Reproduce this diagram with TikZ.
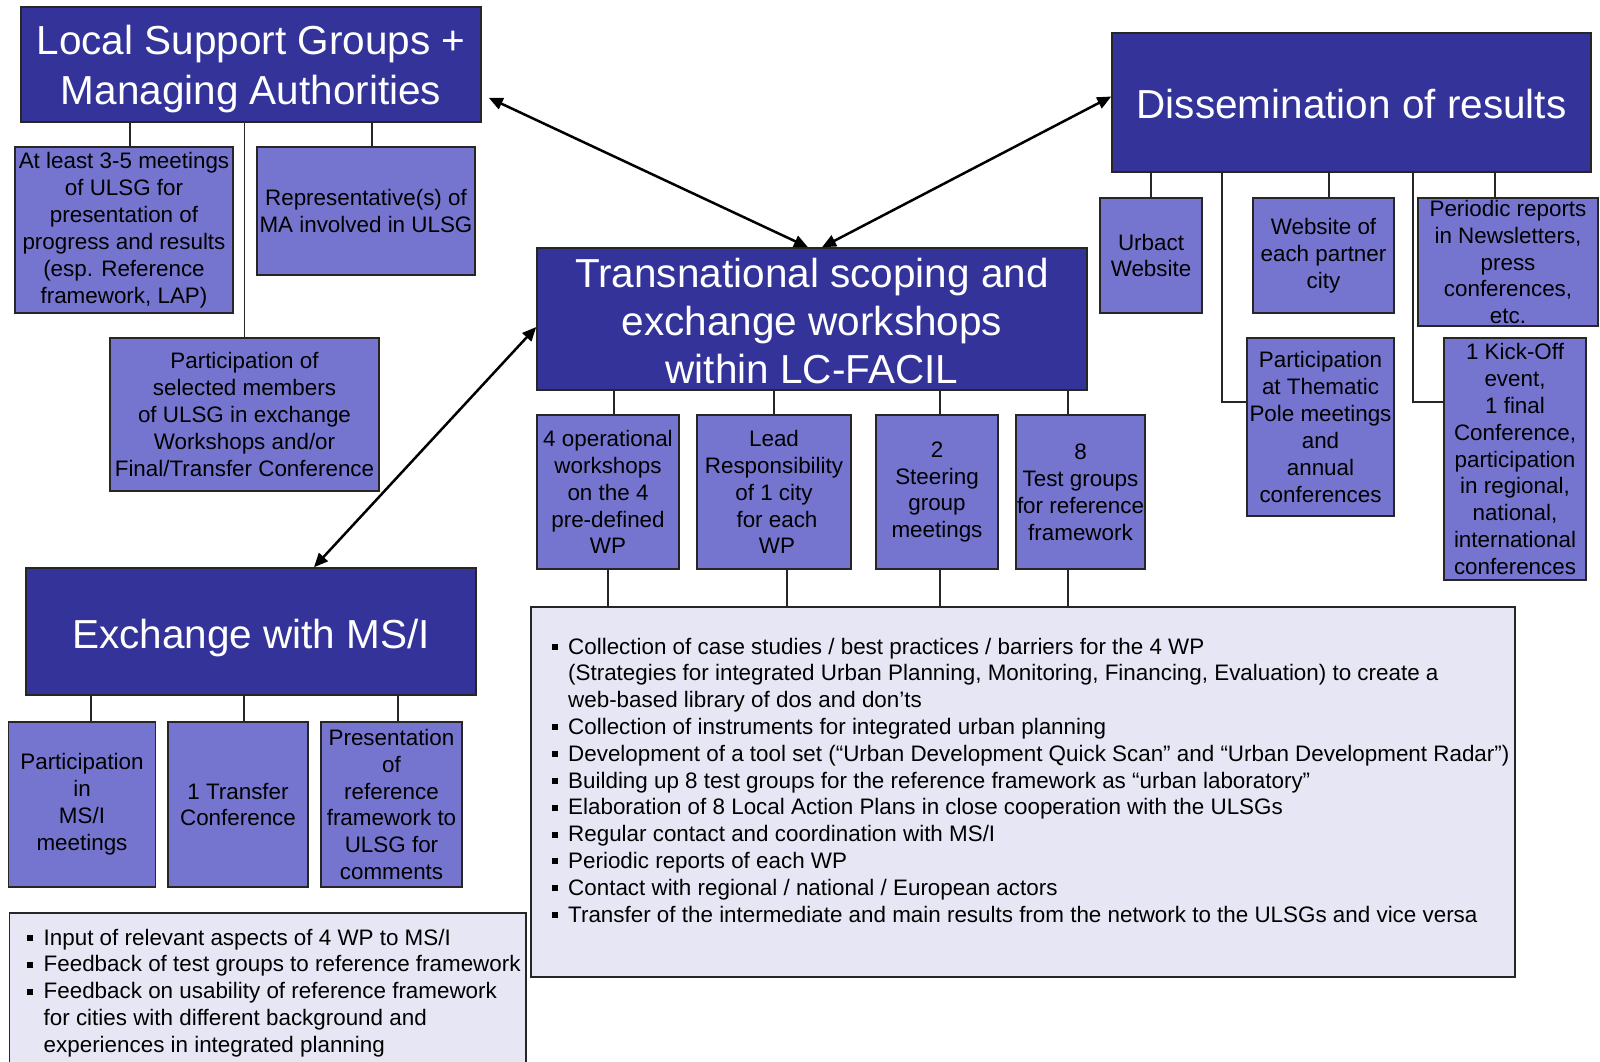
\documentclass[tikz,border=0pt]{standalone}
\usepackage{fontspec}
\setmainfont{Liberation Sans}
\usetikzlibrary{arrows.meta}
\definecolor{dkblue}{HTML}{333399}
\definecolor{mdblue}{HTML}{7575D0}
\definecolor{ltblue}{HTML}{E6E6F5}
\definecolor{edgecol}{HTML}{262626}
\newcommand{\bul}{\makebox[16.5pt][l]{\rule[4pt]{6pt}{6pt}}}
\newcommand{\ind}{\hspace*{16.5pt}}
\begin{document}
\begin{tikzpicture}[x=1pt,y=-1pt,
  titlebox/.style={draw=edgecol, line width=1.5pt, fill=dkblue, inner sep=0pt},
  titletext/.style={text=white, align=center, inner sep=0pt, font=\fontsize{40.5}{48}\selectfont},
  subbox/.style={draw=edgecol, line width=1.5pt, fill=mdblue, text=black, align=center, inner sep=0pt, font=\fontsize{22.4}{26.9}\selectfont},
  listbox/.style={draw=edgecol, line width=1.5pt, fill=ltblue},
  listtext/.style={anchor=base west, inner sep=0pt, font=\fontsize{22.4}{26.8}\selectfont},
  link/.style={draw=edgecol, line width=1.5pt},
  biarrow/.style={draw=black, line width=2.5pt, {Triangle[length=14pt,width=12pt]}-{Triangle[length=14pt,width=12pt]}}
]
\fill[white] (0,0) rectangle (1600,1062);
\useasboundingbox (0,0) rectangle (1600,1062);

% ---- Local Support Groups
\node[titlebox, minimum width=460, minimum height=115] (LSG) at (251,64.5) {};
\node[titletext, font=\fontsize{40.5}{50}\selectfont, yshift=-5pt] (LSGt) at (LSG.center) {Local Support Groups +\\Managing Authorities};
\node[subbox, minimum width=218, minimum height=166] (A) at (124,230) {At least 3-5 meetings\\of ULSG for\\presentation of\\progress and results\\(esp. Reference\\framework, LAP)};
\node[subbox, minimum width=218, minimum height=128] (B) at (366,211) {Representative(s) of\\MA involved in ULSG};
\node[subbox, minimum width=269, minimum height=153] (P) at (244.5,414.5) {Participation of\\selected members\\of ULSG in exchange\\Workshops and/or\\Final/Transfer Conference};

% ---- Transnational
\node[titlebox, minimum width=550, minimum height=142] (Trans) at (812,319) {};
\node[titletext, yshift=-2pt] (Transt) at (Trans.center) {Transnational scoping and\\exchange workshops\\within LC-FACIL};
\node[subbox, minimum width=142, minimum height=154] (T1) at (608,492) {4 operational\\workshops\\on the 4\\pre-defined\\WP};
\node[subbox, minimum width=154, minimum height=154] (T2) at (774,492) {Lead\\Responsibility\\of 1 city\\\hspace*{6pt}for each\\\hspace*{6pt}WP};
\node[subbox, minimum width=122, minimum height=154] (T3) at (937,492) {2\\Steering\\group\\meetings};
\node[subbox, minimum width=129, minimum height=154] (T4) at (1080.5,492) {8\\Test groups\\for reference\\framework};
\node[listbox, minimum width=984, minimum height=370] (L) at (1023,792) {};
\node[listtext] (Ltext) at (551.5,654) {\parbox[t]{980pt}{%
\bul Collection of case studies / best practices / barriers for the 4 WP\\
\ind (Strategies for integrated Urban Planning, Monitoring, Financing, Evaluation) to create a\\
\ind web-based library of dos and don’ts\\
\bul Collection of instruments for integrated urban planning\\
\bul Development of a tool set (“Urban Development Quick Scan” and “Urban Development Radar”)\\
\bul Building up 8 test groups for the reference framework as “urban laboratory”\\
\bul Elaboration of 8 Local Action Plans in close cooperation with the ULSGs\\
\bul Regular contact and coordination with MS/I\\
\bul Periodic reports of each WP\\
\bul Contact with regional / national / European actors\\
\bul Transfer of the intermediate and main results from the network to the ULSGs and vice versa}};

% ---- Dissemination
\node[titlebox, minimum width=479, minimum height=139] (Diss) at (1351.5,102.5) {};
\node[titletext, yshift=-2pt] (Disst) at (Diss.center) {Dissemination of results};
\node[subbox, minimum width=102, minimum height=115] (D1) at (1151,255.5) {Urbact\\Website};
\node[subbox, minimum width=141, minimum height=115] (D2) at (1323.5,255.5) {Website of\\each partner\\city};
\node[subbox, minimum width=180, minimum height=128] (D3) at (1508,262) {Periodic reports\\in Newsletters,\\press\\conferences,\\etc.};
\node[subbox, minimum width=147, minimum height=178] (D4) at (1320.5,427) {Participation\\at Thematic\\Pole meetings\\and\\annual\\conferences};
\node[subbox, minimum width=142, minimum height=242] (D5) at (1515,459) {1 Kick-Off\\event,\\1 final\\Conference,\\participation\\in regional,\\national,\\international\\conferences};

% ---- Exchange
\node[titlebox, minimum width=450, minimum height=127] (Exch) at (251,631.5) {};
\node[titletext, yshift=-7pt] (Excht) at (Exch.center) {Exchange with MS/I};
\node[subbox, minimum width=147, minimum height=165] (E1) at (82,804.5) {Participation\\in\\MS/I\\meetings};
\node[subbox, minimum width=140, minimum height=165] (E2) at (238,804.5) {1 Transfer\\Conference};
\node[subbox, minimum width=141, minimum height=165] (E3) at (391.5,804.5) {Presentation\\of\\reference\\framework to\\ULSG for\\comments};
\node[listbox, minimum width=516.5, minimum height=160, anchor=north west] (M) at (8.5,912) {};
\node[listtext] (Mtext) at (27,945) {\parbox[t]{500pt}{%
\bul Input of relevant aspects of 4 WP to MS/I\\
\bul Feedback of test groups to reference framework\\
\bul Feedback on usability of reference framework\\
\ind for cities with different background and\\
\ind experiences in integrated planning}};

% ---- connector x positions
\coordinate (cA) at (130,0);
\coordinate (cB) at (372,0);
\coordinate (c1) at (614,0);
\coordinate (c2) at (774,0);
\coordinate (c3) at (940,0);
\coordinate (c4) at (1068,0);
\coordinate (b1) at (608,0);
\coordinate (b2) at (787,0);
\coordinate (b3) at (940,0);
\coordinate (b4) at (1068,0);
\coordinate (d1) at (1151,0);
\coordinate (d2) at (1329,0);
\coordinate (d3) at (1495,0);
\coordinate (j4) at (1222,402);
\coordinate (j5) at (1413,402);
\coordinate (e1) at (91,0);
\coordinate (e2) at (244,0);
\coordinate (e3) at (398,0);

\draw[link] (LSG.south -| cA) -- (A.north -| cA);
\draw[link] (LSG.south -| P.north) -- (P.north);
\draw[link] (LSG.south -| cB) -- (B.north -| cB);

\draw[link] (Trans.south -| c1) -- (T1.north -| c1);
\draw[link] (Trans.south -| c2) -- (T2.north -| c2);
\draw[link] (Trans.south -| c3) -- (T3.north -| c3);
\draw[link] (Trans.south -| c4) -- (T4.north -| c4);
\draw[link] (T1.south -| b1) -- (L.north -| b1);
\draw[link] (T2.south -| b2) -- (L.north -| b2);
\draw[link] (T3.south -| b3) -- (L.north -| b3);
\draw[link] (T4.south -| b4) -- (L.north -| b4);

\draw[link] (Diss.south -| d1) -- (D1.north -| d1);
\draw[link] (Diss.south -| d2) -- (D2.north -| d2);
\draw[link] (Diss.south -| d3) -- (D3.north -| d3);
\draw[link] (Diss.south -| j4) |- (D4.west |- j4);
\draw[link] (Diss.south -| j5) |- (D5.west |- j5);

\draw[link] (Exch.south -| e1) -- (E1.north -| e1);
\draw[link] (Exch.south -| e2) -- (E2.north -| e2);
\draw[link] (Exch.south -| e3) -- (E3.north -| e3);

% ---- arrows
\draw[biarrow] ([xshift=7pt,yshift=25pt]LSG.south east) -- ([xshift=-4pt]Trans.north);
\draw[biarrow] ([yshift=6pt]Diss.west) -- ([xshift=10pt]Trans.north);
\draw[biarrow] ([yshift=-8pt]Trans.west) -- ([xshift=63pt]Exch.north);
\end{tikzpicture}
\end{document}
